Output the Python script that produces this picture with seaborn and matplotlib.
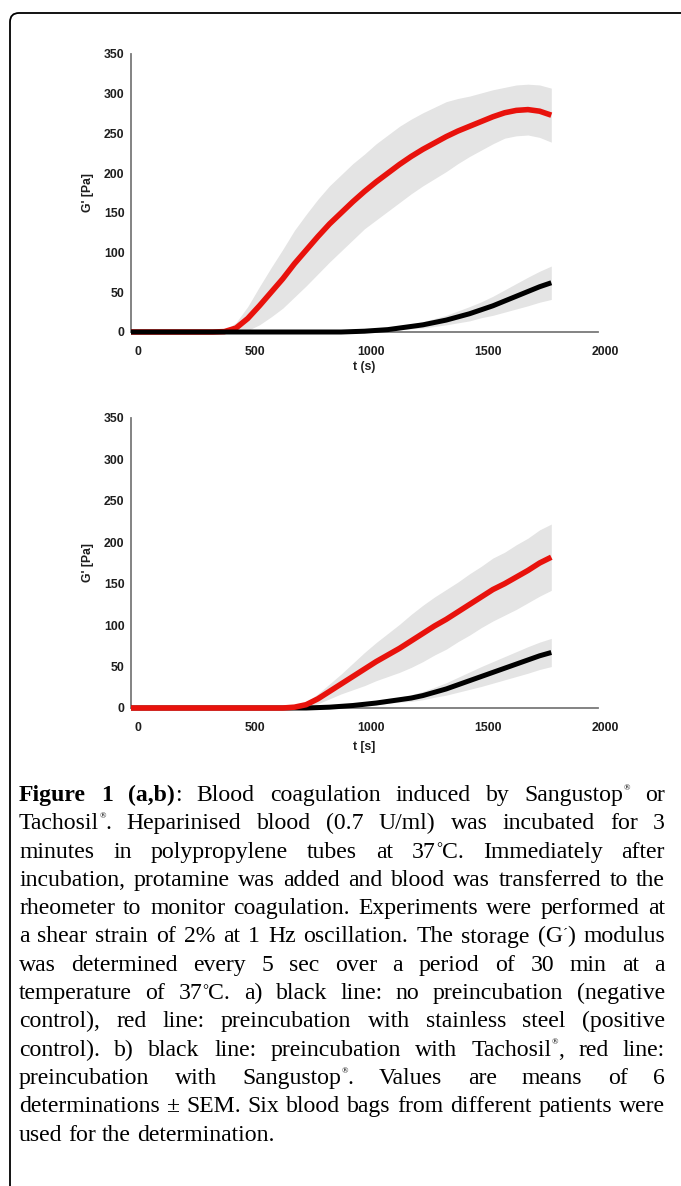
import numpy as np
import pandas as pd
import matplotlib
matplotlib.use("Agg")
import matplotlib.pyplot as plt
import matplotlib.transforms as mtransforms
from matplotlib.patches import FancyBboxPatch
import seaborn as sns

# ---------------- data ----------------
t_s = list(range(0, 1801, 50))

# panel a: black = no preincubation, red = stainless steel
a_black_mean = [0] * 19 + [0.5, 1, 2, 3, 5, 7, 9, 12, 15, 19, 23, 28, 33, 39, 45, 51, 57, 62]
a_black_sem = [0] * 19 + [0.3, 0.5, 1, 1.5, 2, 3, 4, 5, 6, 7.5, 9, 10, 12, 14, 16, 18, 19.5, 21]
a_red_mean = [0] * 8 + [0.5, 5, 17, 33, 50, 67, 86, 103, 120, 136, 150, 164, 177, 189, 200,
                        211, 221, 230, 238, 246, 253, 259, 265, 271, 276, 279, 280, 278, 273]
a_red_sem = [0] * 8 + [1, 7, 15, 24, 31, 37, 42, 45, 47, 48, 48, 48, 47, 48, 48,
                       48, 47, 46, 45, 44, 41, 38, 36, 34, 32, 32, 32, 33, 34]

# panel b: black = Tachosil, red = Sangustop
b_black_mean = [0] * 16 + [0.5, 1, 2, 3, 4.5, 6, 8, 10, 12, 15, 19, 23, 28, 33, 38, 43, 48, 53, 58, 63, 67]
b_black_sem = [0] * 16 + [0.2, 0.4, 0.7, 1, 1.5, 2, 2.5, 3, 4, 5, 6, 7.5, 9, 10.5, 12, 13, 14, 15, 16, 16.5, 17]
b_red_mean = [0] * 14 + [1, 4, 11, 20, 29, 38, 47, 56, 64, 72, 81, 90, 99, 107, 116,
                         125, 134, 143, 150, 158, 166, 175, 182]
b_red_sem = [0] * 14 + [1, 3, 6, 9, 12, 16, 20, 23, 26, 29, 32, 34, 35, 36, 36,
                        37, 37, 38, 38, 39, 39, 40, 40]

x_ticks = [0, 500, 1000, 1500, 2000]
y_ticks = [0, 50, 100, 150, 200, 250, 300, 350]
y_label = "G' [Pa]"
x_label_a = "t (s)"
x_label_b = "t [s]"

caption_lines = [
    "<Figure> <1> <(a,b)>: Blood coagulation induced by Sangustop® or",
    "Tachosil®. Heparinised blood (0.7 U/ml) was incubated for 3",
    "minutes in polypropylene tubes at 37°C. Immediately after",
    "incubation, protamine was added and blood was transferred to the",
    "rheometer to monitor coagulation. Experiments were performed at",
    "a shear strain of 2% at 1 Hz oscillation. The storage (G´) modulus",
    "was determined every 5 sec over a period of 30 min at a",
    "temperature of 37°C. a) black line: no preincubation (negative",
    "control), red line: preincubation with stainless steel (positive",
    "control). b) black line: preincubation with Tachosil®, red line:",
    "preincubation with Sangustop®. Values are means of 6",
    "determinations ± SEM. Six blood bags from different patients were",
    "used for the determination.",
]

# ---------------- style ----------------
sns.set_style("white")
plt.rcParams["font.family"] = ["Liberation Sans", "DejaVu Sans"]

W, H = 681, 1186
fig = plt.figure(figsize=(W / 100, H / 100), dpi=100)
fig.patch.set_facecolor("white")

RED = "#e8120c"
BLACK = "#000000"
BAND = "#e4e4e4"
SPINE = "#7a7a7a"
LABC = "#1e1e1e"
TFS = 8.8


def ax_rect(x0, x1, y_top, y_bot):
    return [x0 / W, 1 - y_bot / H, (x1 - x0) / W, (y_bot - y_top) / H]


def panel(ax, series, xlabel, xlab_off):
    t = np.array(t_s, dtype=float)
    for mean, sem, col, lw, z in series:
        m = np.array(mean, float)
        s = np.array(sem, float)
        ax.fill_between(t, m - s, m + s, color=BAND, lw=0, zorder=1)
    for mean, sem, col, lw, z in series:
        df = pd.DataFrame({"t": t_s, "G": mean})
        sns.lineplot(data=df, x="t", y="G", ax=ax, color=col, lw=lw, zorder=z,
                     clip_on=False, legend=False, solid_capstyle="butt",
                     solid_joinstyle="round")
    ax.set_xlim(0, 2000)
    ax.set_ylim(0, 350)
    ax.set_xticks(x_ticks)
    ax.set_yticks(y_ticks)
    sns.despine(ax=ax)
    for sp in ("left", "bottom"):
        ax.spines[sp].set_color(SPINE)
        ax.spines[sp].set_linewidth(1.3)
        ax.spines[sp].set_zorder(0.5)
    ax.tick_params(axis="y", direction="out", length=3.5, width=1.0, color=SPINE,
                   pad=1.2, labelsize=TFS, labelcolor=LABC)
    ax.tick_params(axis="x", direction="inout", length=4, width=1.0, color=SPINE,
                   pad=8.0, labelsize=TFS, labelcolor=LABC)
    for lab in ax.get_xticklabels() + ax.get_yticklabels():
        lab.set_fontweight("bold")
    off = mtransforms.ScaledTranslation(5 / 72, 0, fig.dpi_scale_trans)
    for lab in ax.get_xticklabels():
        lab.set_transform(lab.get_transform() + off)
    ax.set_ylabel(y_label, fontsize=TFS, fontweight="bold", color=LABC)
    ax.set_xlabel(xlabel, fontsize=TFS, fontweight="bold", color=LABC)
    ax.yaxis.set_label_coords(-0.08, 0.5)
    ax.xaxis.set_label_coords(0.5, xlab_off)
    ax.patch.set_alpha(0)


ax1 = fig.add_axes(ax_rect(131, 598, 54, 332))
panel(ax1, [(a_red_mean, a_red_sem, RED, 4.0, 3),
            (a_black_mean, a_black_sem, BLACK, 3.6, 4)], x_label_a, -0.106)

ax2 = fig.add_axes(ax_rect(131, 598, 418, 708))
panel(ax2, [(b_black_mean, b_black_sem, BLACK, 3.6, 3),
            (b_red_mean, b_red_sem, RED, 4.0, 4)], x_label_b, -0.114)

# ---------------- border ----------------
border = FancyBboxPatch((10, -60), 900, (H - 13) + 60,
                        boxstyle="round,pad=0,rounding_size=9",
                        transform=mtransforms.IdentityTransform(),
                        fill=False, ec="black", lw=1.3)
fig.add_artist(border)

# ---------------- caption (justified) ----------------
SERIF = ["Liberation Serif", "DejaVu Serif"]
# superscript marks: (relative size, raise in em)
SUP = {"®": (0.36, 0.46), "°": (0.62, 0.22), "´": (0.62, 0.18)}
renderer = fig.canvas.get_renderer()
ID = mtransforms.IdentityTransform()


def parse_word(word):
    segs = []
    bold = False
    cur = ""
    for ch in word:
        if ch in "<>":
            if cur:
                segs.append((cur, "b" if bold else "n"))
                cur = ""
            bold = (ch == "<")
        elif ch in SUP:
            if cur:
                segs.append((cur, "b" if bold else "n"))
                cur = ""
            segs.append((ch, "s"))
        else:
            cur += ch
    if cur:
        segs.append((cur, "b" if bold else "n"))
    return segs


def make_word(word, fs):
    arts = []
    for txt, kind in parse_word(word):
        size = fs * SUP[txt][0] if kind == "s" else fs
        weight = "bold" if kind == "b" else "normal"
        a = fig.text(0, 0, txt, fontsize=size, fontweight=weight, family=SERIF,
                     va="baseline", ha="left", transform=ID, color="black")
        arts.append((a, kind, txt))
    widths = [a.get_window_extent(renderer).width for a, _, _ in arts]
    return arts, widths


def space_width(fs):
    a1 = fig.text(0, 0, "a a", fontsize=fs, family=SERIF, transform=ID)
    a2 = fig.text(0, 0, "aa", fontsize=fs, family=SERIF, transform=ID)
    w = a1.get_window_extent(renderer).width - a2.get_window_extent(renderer).width
    a1.remove()
    a2.remove()
    return w


LEFT, RIGHT = 19.0, 665.0
Y0, DY = 801.0, 28.3

# choose size so that the widest justified line just fits with normal spaces
base = 16.0
sp_b = space_width(base)
max_nat = 0
for line in caption_lines[:-1]:
    words = line.split(" ")
    tot = 0
    for w in words:
        arts, ws = make_word(w, base)
        tot += sum(ws)
        for a, _, _ in arts:
            a.remove()
    max_nat = max(max_nat, tot + sp_b * (len(words) - 1))
FS = base * (RIGHT - LEFT - 6) / max_nat
space_px = space_width(FS)
FS_PX = FS * 100 / 72

for i, line in enumerate(caption_lines):
    words = line.split(" ")
    built = [make_word(w, FS) for w in words]
    word_w = [sum(ws) for _, ws in built]
    last = (i == len(caption_lines) - 1)
    if last:
        gap = space_px
    else:
        gap = (RIGHT - LEFT - sum(word_w)) / (len(words) - 1)
    x = LEFT
    ybase = H - (Y0 + i * DY)
    for (arts, ws), ww in zip(built, word_w):
        xx = x
        for (a, kind, txt), w in zip(arts, ws):
            yy = ybase + (FS_PX * SUP[txt][1] if kind == "s" else 0)
            a.set_position((xx, yy))
            xx += w
        x += ww + gap

fig.savefig("out.png", dpi=100, facecolor="white")
